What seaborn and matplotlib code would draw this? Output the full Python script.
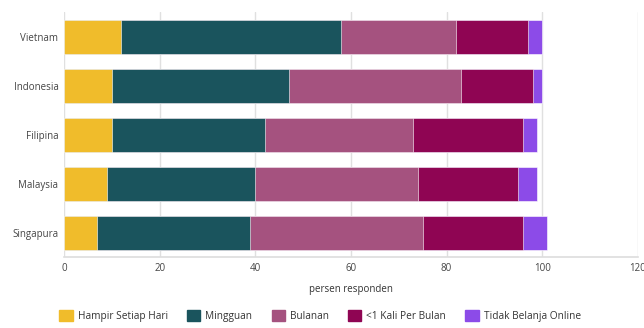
import numpy as np
import pandas as pd
import matplotlib
matplotlib.use("Agg")
import matplotlib.pyplot as plt
from matplotlib.patches import Patch
import seaborn as sns

# data (persen responden)
countries = ["Vietnam", "Indonesia", "Filipina", "Malaysia", "Singapura"]
categories = ["Hampir Setiap Hari", "Mingguan", "Bulanan", "<1 Kali Per Bulan", "Tidak Belanja Online"]
hampir_setiap_hari = [12, 10, 10, 9, 7]
mingguan = [46, 37, 32, 31, 32]
bulanan = [24, 36, 31, 34, 36]
kurang_sekali = [15, 15, 23, 21, 21]
tidak_belanja = [3, 2, 3, 4, 5]
colors = ["#F0BC2B", "#1A545D", "#A5527F", "#8F0553", "#8C4BE8"]

sns.set_theme(style="white")
plt.rcParams["font.family"] = ["Open Sans", "DejaVu Sans"]

df = pd.DataFrame({
    "negara": countries,
    categories[0]: hampir_setiap_hari,
    categories[1]: mingguan,
    categories[2]: bulanan,
    categories[3]: kurang_sekali,
    categories[4]: tidak_belanja,
})
# cumulative sums for the stacking
cum = df[categories].cumsum(axis=1)
cum["negara"] = df["negara"]

fig = plt.figure(figsize=(6.44, 3.28), dpi=100)
ax = fig.add_axes([0.0994, 0.215, 0.891, 0.747])

# draw from the longest (total) to the shortest so earlier segments stay on top
for cat, col in reversed(list(zip(categories, colors))):
    sns.barplot(data=cum, x=cat, y="negara", order=countries, color=col,
                width=0.7, edgecolor="#ffffff", linewidth=0.4, saturation=1, ax=ax)

ax.set_xlim(0, 120)
ax.set_xticks(range(0, 121, 20))
ax.xaxis.grid(True, color="#e0e0e0", linewidth=1)
ax.set_axisbelow(True)
ax.set_ylabel("")
ax.set_xlabel("persen responden", fontsize=7, color="#333333", labelpad=7)
ax.tick_params(axis="both", length=0, labelsize=7, labelcolor="#444444")
ax.tick_params(axis="x", pad=4)
ax.tick_params(axis="y", pad=4)
for s in ["top", "right", "left"]:
    ax.spines[s].set_visible(False)
ax.spines["bottom"].set_color("#dddddd")
ax.spines["bottom"].set_linewidth(1.2)

handles = [Patch(facecolor=c, edgecolor=c, label=l) for l, c in zip(categories, colors)]
fig.legend(handles=handles, loc="lower center", bbox_to_anchor=(0.497, -0.01), ncol=5,
           frameon=False, fontsize=7.3, handlelength=1.3, handleheight=1.3,
           handletextpad=0.5, columnspacing=1.9, labelcolor="#333333")

fig.savefig("out.png", dpi=100)
